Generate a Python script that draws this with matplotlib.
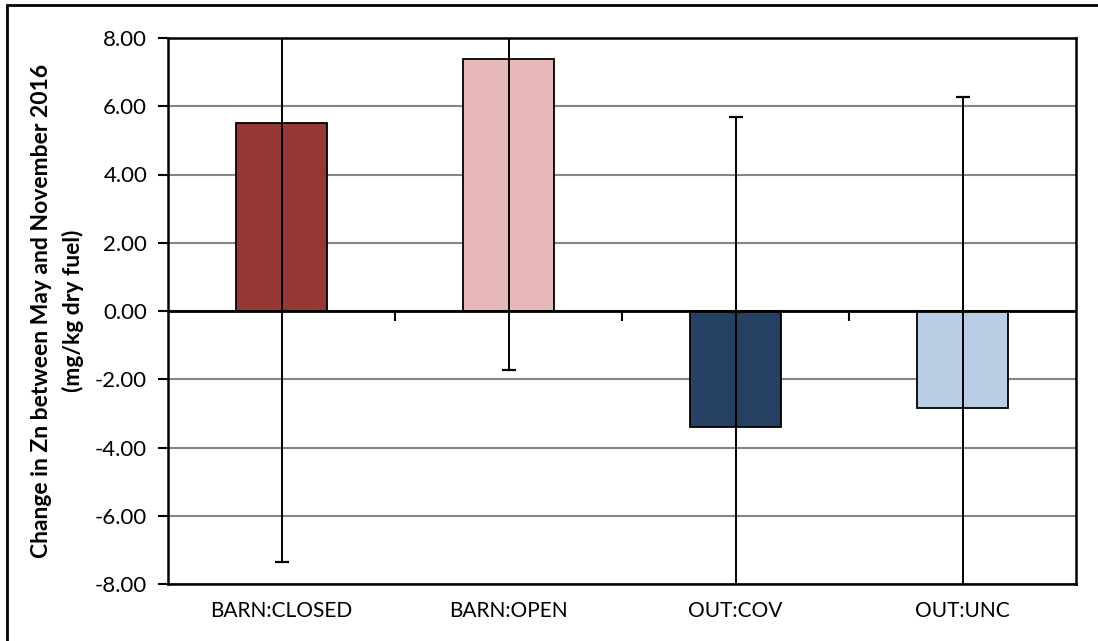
import matplotlib
matplotlib.use("Agg")
from matplotlib import pyplot as plt
from matplotlib.patches import Rectangle

# data
groups = ["BARN:CLOSED", "BARN:OPEN", "OUT:COV", "OUT:UNC"]
change = [5.52, 7.38, -3.40, -2.84]
error = [12.87, 9.12, 9.08, 9.10]
colors = ["#953735", "#E6B9B8", "#254061", "#B9CDE5"]

plt.rcParams["font.family"] = ["Lato", "DejaVu Sans"]
plt.rcParams["axes.unicode_minus"] = False

fig = plt.figure(figsize=(10.98, 6.41), dpi=100)
ax = fig.add_axes([168 / 1098, 57 / 641, 908 / 1098, 546 / 641])

x = list(range(len(groups)))
ax.bar(x, change, width=0.4, color=colors, edgecolor="black", linewidth=1.3, zorder=3)
ax.errorbar(x, change, yerr=error, fmt="none", ecolor="black", elinewidth=1.4,
            capsize=4.7, capthick=1.6, zorder=4)

ax.set_xlim(-0.5, 3.5)
ax.set_ylim(-8, 8)
ax.set_yticks([-8, -6, -4, -2, 0, 2, 4, 6, 8])
ax.set_yticklabels(["%.2f" % v for v in ax.get_yticks()])
ax.grid(axis="y", color="#868686", linewidth=1.5, zorder=0)
ax.set_xticks(x)
ax.set_xticklabels(groups)
ax.tick_params(axis="x", length=0, pad=12, labelsize=15)
ax.tick_params(axis="y", direction="out", length=7, width=1.5, pad=8, labelsize=16)
for s in ax.spines.values():
    s.set_linewidth(1.8)
    s.set_zorder(5)

# the category axis crossing at zero
ax.axhline(0, color="black", linewidth=2, zorder=3.5)
zero_axis = ax.secondary_xaxis(0.5)
zero_axis.set_xticks([0.5, 1.5, 2.5])
zero_axis.set_xticklabels([])
zero_axis.tick_params(direction="in", length=7, width=1.5)
for s in zero_axis.spines.values():
    s.set_visible(False)

ax.set_ylabel("Change in Zn between May and November 2016\n(mg/kg dry fuel)",
              fontsize=16.5, fontweight="bold", labelpad=8, linespacing=1.55)

# outer chart border (cropped at the right and bottom)
fig.patches.append(Rectangle((7 / 1098, -0.1), 1.2, 1.1 - 5 / 641, transform=fig.transFigure,
                             fill=False, edgecolor="black", linewidth=2))

fig.savefig("out.png", dpi=100)
